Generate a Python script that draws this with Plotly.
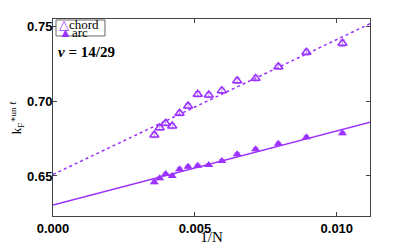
import numpy as np
import plotly.graph_objects as go

# data
inv_n = [0.00357, 0.00376, 0.00397, 0.00420, 0.00446, 0.00476, 0.00510,
         0.00549, 0.00595, 0.00649, 0.00714, 0.00794, 0.00893, 0.01020]
chord = [0.6773, 0.6822, 0.6851, 0.6833, 0.6918, 0.6967, 0.7045,
         0.7040, 0.7069, 0.7135, 0.7151, 0.7229, 0.7325, 0.7385]
chord_err = [0.0018, 0.0017, 0.0017, 0.0018, 0.0017, 0.0017, 0.0018,
             0.0018, 0.0018, 0.0018, 0.0018, 0.0018, 0.0020, 0.0022]
arc = [0.6458, 0.6485, 0.6513, 0.6500, 0.6545, 0.6562, 0.6569,
       0.6573, 0.6600, 0.6645, 0.6678, 0.6715, 0.6758, 0.6785]
arc_err = [0.0010] * 14

# linear fits (intercept, slope)
chord_fit = (0.651, 9.0)
arc_fit = (0.6306, 4.94)
fit_x = [0.0, 0.0112]

x_ticks = [0.0, 0.005, 0.010]
x_tick_labels = ["0.000", "0.005", "0.010"]
y_ticks = [0.65, 0.70, 0.75]
y_tick_labels = ["0.65", "0.70", "0.75"]

purple = "#9B30FF"
err_col = "rgba(170,110,255,0.7)"

fig = go.Figure()

fx = np.array(fit_x)
fig.add_trace(go.Scatter(x=fx, y=chord_fit[0] + chord_fit[1] * fx, mode="lines",
                         line=dict(color=purple, width=1.5, dash="dot"),
                         showlegend=False, hoverinfo="skip"))
fig.add_trace(go.Scatter(x=fx, y=arc_fit[0] + arc_fit[1] * fx, mode="lines",
                         line=dict(color=purple, width=1.5),
                         showlegend=False, hoverinfo="skip"))

fig.add_trace(go.Scatter(x=inv_n, y=chord, mode="markers", name="chord",
                         marker=dict(symbol="triangle-up-open", size=8, color=purple,
                                     line=dict(width=1.5, color=purple)),
                         error_y=dict(type="data", array=chord_err, color=err_col,
                                      thickness=1, width=3),
                         showlegend=False))
fig.add_trace(go.Scatter(x=inv_n, y=arc, mode="markers", name="arc",
                         marker=dict(symbol="triangle-up", size=8, color=purple),
                         error_y=dict(type="data", array=arc_err, color=err_col,
                                      thickness=1, width=3),
                         showlegend=False))

serif = "Liberation Serif, DejaVu Serif, serif"
sans = "Liberation Sans, Arial, sans-serif"

# legend box
fig.add_shape(type="rect", xref="paper", yref="paper", x0=0.0095, x1=0.164,
              y0=0.914, y1=0.995, line=dict(color="#666666", width=1),
              fillcolor="white")
fig.add_annotation(xref="paper", yref="paper", x=0.012, y=0.972, xanchor="left",
                   yanchor="middle", showarrow=False,
                   text="<span style='color:%s'>△</span>chord" % purple,
                   font=dict(family=serif, size=13, color="black"))
fig.add_annotation(xref="paper", yref="paper", x=0.012, y=0.93, xanchor="left",
                   yanchor="middle", showarrow=False,
                   text="<span style='color:%s'>▲</span>arc" % purple,
                   font=dict(family=serif, size=13, color="black"))

fig.add_annotation(xref="paper", yref="paper", x=0.01, y=0.835, xanchor="left",
                   yanchor="middle", showarrow=False,
                   text="<b><i>ν</i> = 14/29</b>",
                   font=dict(family=serif, size=15, color="black"))

axis_common = dict(showline=True, linecolor="#444444", linewidth=1, mirror="ticks",
                   ticks="inside", ticklen=4, tickcolor="#444444", showgrid=False,
                   zeroline=False, automargin=False,
                   tickfont=dict(family=sans, size=13, color="black"))

fig.update_xaxes(range=[0.0, 0.01117], tickvals=x_ticks,
                 ticktext=["<b>%s</b>" % t for t in x_tick_labels],
                 title=dict(text="1/N", font=dict(family=serif, size=15, color="black"),
                            standoff=0),
                 **axis_common)
fig.update_yaxes(range=[0.6233, 0.7547], tickvals=y_ticks,
                 ticktext=["<b>%s</b>" % t for t in y_tick_labels],
                 title=dict(text="k<sub>F</sub><sup>∗un ℓ</sup>",
                            font=dict(family=serif, size=13, color="black"),
                            standoff=2),
                 **axis_common)
fig.update_yaxes(ticklabelstandoff=-3)

fig.update_layout(width=409, height=245, margin=dict(l=53, r=39, t=19, b=29),
                  plot_bgcolor="white", paper_bgcolor="white")

fig.write_html("out.html", config={"displayModeBar": False},
               post_script="document.body.style.margin='0';document.body.style.overflow='hidden';")
